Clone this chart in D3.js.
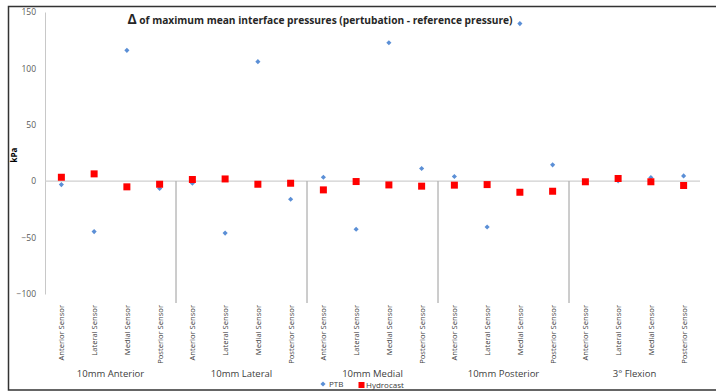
<!DOCTYPE html>
<html>
<head>
<meta charset="utf-8">
<script src="https://cdn.jsdelivr.net/npm/d3@7"></script>
<style>
  body { margin: 0; background: #fff; }
  text { font-family: "Open Sans", "Liberation Sans", sans-serif; }
</style>
</head>
<body>
<div id="chart"></div>
<script>

// Data
const groups = ["10mm Anterior", "10mm Lateral", "10mm Medial", "10mm Posterior", "3° Flexion"];
const sensors = ["Anterior Sensor", "Lateral Sensor", "Medial Sensor", "Posterior Sensor"];

// one value per sensor, groups in the order above
const ptbValues = [
    -3, -44.7, 116, -6.5,
    -1.8, -46, 106, -16,
    3.5, -42.6, 122.8, 11.3,
    4.2, -40.6, 139.7, 14.5,
    0, 0.3, 3.3, 4.7
];
const hydrocastValues = [
    3.5, 6.5, -5, -2.7,
    1.5, 2, -2.7, -1.8,
    -7.7, -0.3, -3.3, -4.4,
    -3.5, -3, -9.8, -8.9,
    -0.5, 2.4, -0.5, -3.8
];
const yTicks = [-100, -50, 0, 50, 100, 150];

let width = 716, height = 392;
let margin = { top: 12, right: 8, bottom: 98, left: 45 };

let svg = d3.select("#chart").append("svg")
    .attr("width", width)
    .attr("height", height);

// frame (top, left, bottom lines, right side cut off)
svg.append("path")
    .attr("d", "M716,6.5 H8.5 V390 H716")
    .attr("fill", "none")
    .attr("stroke", "#333")
    .attr("stroke-width", 1.5);

let g = svg.append("g")
    .attr("transform", "translate(" + margin.left + "," + margin.top + ")");

let plotW = width - margin.left - margin.right - 8;
let plotH = 294 - margin.top;

// categories: each group x each sensor
let cats = [];
groups.forEach((grp, gi) => {
    sensors.forEach((s, si) => cats.push({ id: gi + "-" + si, group: grp, sensor: s }));
});

let x = d3.scaleBand()
    .domain(cats.map(d => d.id))
    .range([0, plotW]);

let y = d3.scaleLinear()
    .domain([-100, 150])
    .range([plotH, 0]);

// y axis
let yAxis = d3.axisLeft(y)
    .tickValues(yTicks)
    .tickSize(0)
    .tickPadding(9);

g.append("g")
    .attr("class", "y-axis")
    .call(yAxis)
    .call(a => a.select(".domain").attr("stroke", "#c8c8c8"))
    .selectAll("text")
    .attr("fill", "#595959")
    .style("font-size", "8.5px");

// zero line
g.append("line")
    .attr("x1", 0)
    .attr("x2", plotW)
    .attr("y1", y(0))
    .attr("y2", y(0))
    .attr("stroke", "#cfcfcf")
    .attr("stroke-width", 1.2);

// group separators
for (let i = 1; i < groups.length; i++) {
    let bx = x(i + "-0");
    g.append("line")
        .attr("x1", bx)
        .attr("x2", bx)
        .attr("y1", y(0))
        .attr("y2", 291)
        .attr("stroke", "#9a9a9a")
        .attr("stroke-width", 1);
}

// sensor labels
g.selectAll(".sensor-label")
    .data(cats)
    .enter().append("text")
    .attr("class", "sensor-label")
    .attr("transform", d => "translate(" + (x(d.id) + x.bandwidth() / 2 + 3) + "," + 293 + ") rotate(-90)")
    .attr("text-anchor", "end")
    .attr("fill", "#404040")
    .style("font-size", "7.6px")
    .text(d => d.sensor);

// group labels
g.selectAll(".group-label")
    .data(groups)
    .enter().append("text")
    .attr("class", "group-label")
    .attr("x", (d, i) => (x(i + "-0") + x(i + "-3") + x.bandwidth()) / 2)
    .attr("y", 365)
    .attr("text-anchor", "middle")
    .attr("fill", "#404040")
    .style("font-size", "9.5px")
    .text(d => d);

// PTB diamonds (rotated squares)
let diamond = d3.symbol().type(d3.symbolSquare).size(13);
g.selectAll(".ptb")
    .data(ptbValues)
    .enter().append("path")
    .attr("class", "ptb")
    .attr("d", diamond)
    .attr("transform", (d, i) => "translate(" + (x(cats[i].id) + x.bandwidth() / 2) + "," + y(d) + ") rotate(45)")
    .attr("fill", "#5b8fd6");

// Hydrocast squares
g.selectAll(".hydro")
    .data(hydrocastValues)
    .enter().append("rect")
    .attr("class", "hydro")
    .attr("x", (d, i) => x(cats[i].id) + x.bandwidth() / 2 - 3.5)
    .attr("y", d => y(d) - 3.5)
    .attr("width", 7)
    .attr("height", 7)
    .attr("fill", "#ff0000");

// title
svg.append("text")
    .attr("x", 320)
    .attr("y", 24)
    .attr("text-anchor", "middle")
    .attr("fill", "#262626")
    .style("font-size", "10.2px")
    .style("font-weight", "bold")
    .html('<tspan style="font-size:14px">Δ</tspan> of maximum mean interface pressures (pertubation - reference pressure)');

// y label
svg.append("text")
    .attr("transform", "translate(17,155) rotate(-90)")
    .attr("text-anchor", "middle")
    .attr("fill", "#000")
    .style("font-size", "8px")
    .style("font-weight", "bold")
    .text("kPa");

// legend
let legend = svg.append("g").attr("transform", "translate(323,384)");
legend.append("path")
    .attr("d", diamond)
    .attr("transform", "rotate(45)")
    .attr("fill", "#5b8fd6");
legend.append("text")
    .attr("x", 6)
    .attr("y", 3)
    .attr("fill", "#404040")
    .style("font-size", "8px")
    .text("PTB");
legend.append("rect")
    .attr("x", 35.5)
    .attr("y", -2)
    .attr("width", 6)
    .attr("height", 6)
    .attr("fill", "#ff0000");
legend.append("text")
    .attr("x", 43)
    .attr("y", 4)
    .attr("fill", "#404040")
    .style("font-size", "8px")
    .text("Hydrocast");

</script>
</body>
</html>
